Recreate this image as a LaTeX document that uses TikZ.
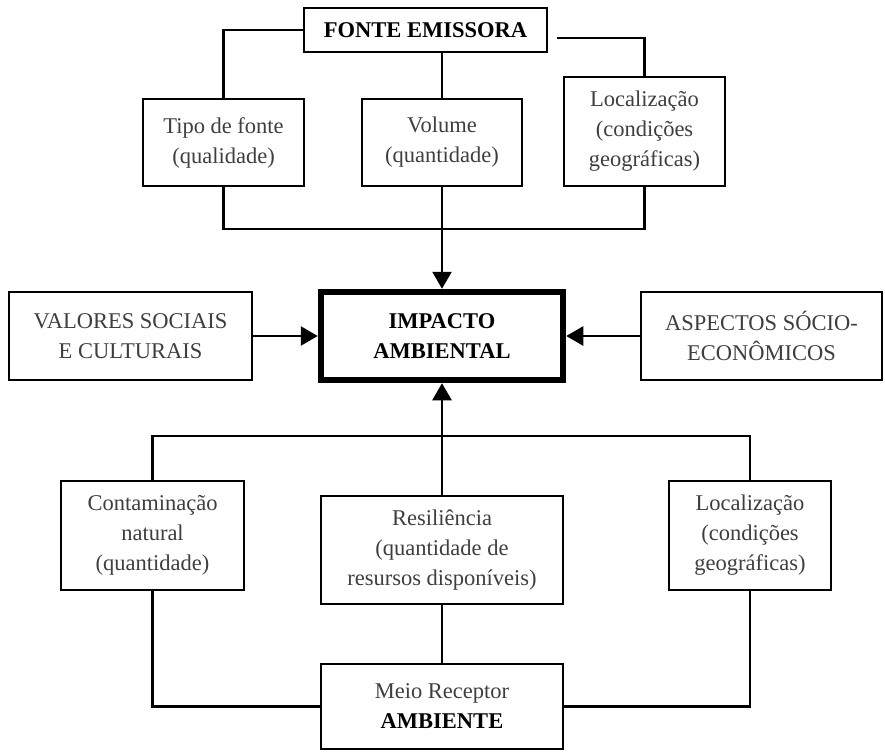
\documentclass[tikz,border=0pt]{standalone}
\usepackage{fontspec}
\setmainfont{Liberation Serif}
\usetikzlibrary{arrows.meta}
\definecolor{textgray}{RGB}{62,62,62}

\tikzset{
  box/.style={draw,line width=2.5pt,align=center,inner sep=0pt,text=textgray,
    font=\fontsize{22.5}{30}\selectfont},
  mainbox/.style={box,line width=6.5pt,text=black,font=\fontsize{22.5}{30}\selectfont\bfseries},
  link/.style={line width=2.5pt}
}

\begin{document}
\begin{tikzpicture}[x=1pt,y=-1pt,>={Triangle[length=17pt,width=19pt]}]
        \useasboundingbox (0,0) rectangle (885,752);
        % fonte emissora
        \node[box,text=black,font=\fontsize{22.5}{30}\selectfont\bfseries,minimum width=243,minimum height=44] (fonte) at (425.5,30) {FONTE EMISSORA};
        \node[box,minimum width=161,minimum height=87] (tipo) at (223.5,142.5) {Tipo de fonte\\(qualidade)};
        \node[box,minimum width=160,minimum height=87] (volume) at (442,142.5) {Volume\\(quantidade)};
        \node[box,minimum width=161,minimum height=109] (locfonte) at (644.5,131.5) {Localização\\(condições\\geográficas)};
        \coordinate (fonteR) at (557,38);
        \coordinate (busfonte) at (442,229);
        \draw[link] (fonte.west) -| (tipo.north);
        \draw[link] (fonte.south -| volume.north) -- (volume.north);
        \draw[link] (fonteR) -| (locfonte.north);
        \draw[link] (tipo.south) |- (busfonte) -| (locfonte.south);
        % impacto ambiental
        \node[mainbox,minimum width=242,minimum height=88] (impacto) at (442,336) {IMPACTO\\AMBIENTAL};
        \node[box,minimum width=243,minimum height=88] (valores) at (130.5,336) {VALORES SOCIAIS\\E CULTURAIS};
        \node[box,minimum width=241,minimum height=88] (aspectos) at (761.5,336) {ASPECTOS SÓCIO-\\ECONÔMICOS};
        \draw[link,->] (volume.south) -- (impacto.north);
        \draw[link,->] (valores.east) -- (impacto.west);
        \draw[link,->] (aspectos.west) -- (impacto.east);
        % meio receptor
        \node[box,minimum width=183,minimum height=109] (contam) at (152.5,535.5) {Contaminação\\natural\\(quantidade)};
        \node[box,minimum width=242,minimum height=108] (resil) at (442,550) {Resiliência\\(quantidade de\\resursos disponíveis)};
        \node[box,minimum width=162,minimum height=109] (locreceptor) at (750,535.5) {Localização\\(condições\\geográficas)};
        \node[box,minimum width=242,minimum height=85] (meio) at (442,706.5) {Meio Receptor\\\textbf{\color{black}AMBIENTE}};
        \coordinate (busmeio) at (442,436);
        \draw[link] (contam.north) |- (busmeio) -| (locreceptor.north);
        \draw[link,->] (resil.north) -- (impacto.south);
        \draw[link] (resil.south) -- (meio.north);
        \draw[link] (contam.south) |- (meio.west);
        \draw[link] (locreceptor.south) |- (meio.east);
    \end{tikzpicture}
\end{document}
